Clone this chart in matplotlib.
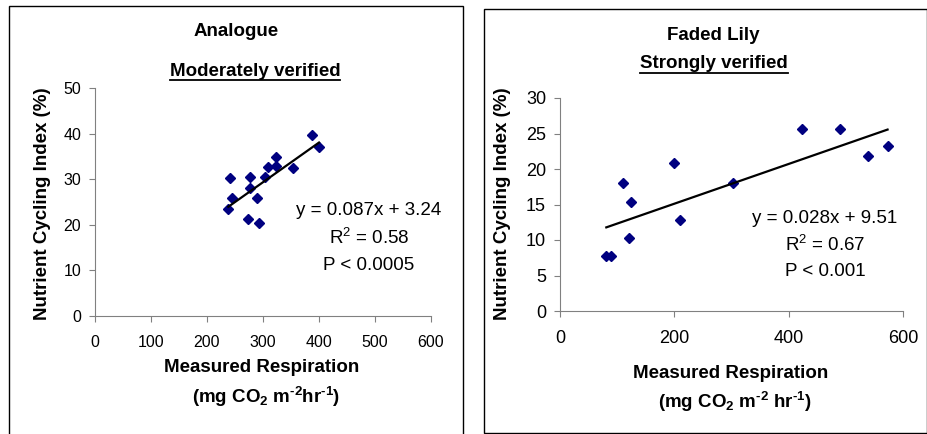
import matplotlib
matplotlib.use("Agg")
import matplotlib.pyplot as plt
import numpy as np
from matplotlib.patches import Rectangle
from matplotlib.lines import Line2D

plt.rcParams["font.family"] = ["Liberation Sans", "DejaVu Sans"]
plt.rcParams["mathtext.fontset"] = "custom"
plt.rcParams["mathtext.rm"] = "Liberation Sans"
plt.rcParams["mathtext.it"] = "Liberation Sans"
plt.rcParams["mathtext.bf"] = "Liberation Sans:bold"

# Analogue site
analogue_resp = [238, 241, 244, 274, 277, 276, 289, 292, 304, 309, 323, 324, 354, 387, 400]
analogue_nci = [23.4, 30.2, 25.8, 21.2, 28.0, 30.4, 25.8, 20.3, 30.4, 32.7, 34.9, 33.0, 32.4, 39.6, 37.1]
analogue_fit = (0.087, 3.24)
analogue_stats = ["y = 0.087x + 3.24", "R$^2$ = 0.58", "P < 0.0005"]

# Faded Lily site
lily_resp = [81, 89, 111, 120, 124, 200, 210, 303, 424, 490, 539, 573]
lily_nci = [7.7, 7.7, 18.0, 10.3, 15.4, 20.9, 12.8, 18.0, 25.6, 25.6, 21.8, 23.3]
lily_fit = (0.028, 9.51)
lily_stats = ["y = 0.028x + 9.51", "R$^2$ = 0.67", "P < 0.001"]

W, H = 927, 434
fig = plt.figure(figsize=(W / 100, H / 100), dpi=100)
BOLD = 13.5
STATS = 13.5


def fx(px):
    return px / W


def fy(py):
    return 1 - py / H


# panel frames
fig.patches.append(Rectangle((fx(9), -0.1), fx(463 - 9), 0.1 + fy(6), transform=fig.transFigure,
                             fill=False, edgecolor="black", linewidth=1))
fig.patches.append(Rectangle((fx(484), fy(433)), fx(926.5 - 484), fy(9) - fy(433), transform=fig.transFigure,
                             fill=False, edgecolor="black", linewidth=1))


def panel(rect, x, y, fit, stats, ylim, yticks, xticks, tick_size, title, subtitle, title_y, sub_y,
          ylab_x, xlab_y, unit, stats_x, stats_y):
    ax = fig.add_axes(rect)
    ax.plot(x, y, linestyle="none", marker="D", ms=5.6, color="#000080")
    xs = np.array([min(x), max(x)])
    ax.plot(xs, fit[0] * xs + fit[1], color="black", linewidth=1.6)
    ax.set_xlim(0, 600)
    ax.set_ylim(*ylim)
    ax.set_xticks(xticks)
    ax.set_yticks(yticks)
    for s in ["top", "right"]:
        ax.spines[s].set_visible(False)
    for s in ["left", "bottom"]:
        ax.spines[s].set_color("#808080")
    ax.tick_params(direction="out", length=4, color="#808080", labelsize=tick_size, pad=6)
    ax.tick_params(axis="x", pad=10)
    ax.patch.set_alpha(0)

    fig.text(title[1], fy(title_y), title[0], ha="center", va="center", fontsize=BOLD, fontweight="bold")
    sub = fig.text(subtitle[1], fy(sub_y), subtitle[0], ha="center", va="center", fontsize=BOLD,
                   fontweight="bold")
    fig.canvas.draw()
    bb = sub.get_window_extent().transformed(fig.transFigure.inverted())
    fig.add_artist(Line2D([bb.x0, bb.x1], [bb.y0 - 0.001, bb.y0 - 0.001], transform=fig.transFigure,
                          color="black", linewidth=1.3))

    fig.text(ylab_x, fy(204), "Nutrient Cycling Index (%)", rotation=90,
             ha="center", va="center", fontsize=BOLD, fontweight="bold")
    fig.text(unit[1], fy(xlab_y), "Measured Respiration", ha="center", va="center", fontsize=BOLD,
             fontweight="bold")
    fig.text(unit[1] + 0.004, fy(xlab_y + 29), unit[0], ha="center", va="center", fontsize=BOLD,
             fontweight="bold")

    for i, s in enumerate(stats):
        fig.text(stats_x, fy(stats_y + 27 * i), s, ha="center", va="center", fontsize=STATS)
    return ax


panel([fx(95), fy(316), fx(431 - 95), fy(88) - fy(316)], analogue_resp, analogue_nci, analogue_fit,
      analogue_stats, (0, 50), range(0, 51, 10), range(0, 601, 100), 11.5,
      ("Analogue", fx(236)), ("Moderately verified", fx(255)), 32, 71,
      fx(43), 368, ("(mg CO$_\\mathbf{2}$ m$^\\mathbf{\u20102}$hr$^\\mathbf{\u20101}$)", fx(262)),
      fx(369), 211)

panel([fx(560), fy(311), fx(903 - 560), fy(98) - fy(311)], lily_resp, lily_nci, lily_fit,
      lily_stats, (0, 30), range(0, 31, 5), range(0, 601, 200), 13,
      ("Faded Lily", fx(713)), ("Strongly verified", fx(714)), 35, 64,
      fx(502), 373, ("(mg CO$_\\mathbf{2}$ m$^\\mathbf{\u20102}$ hr$^\\mathbf{\u20101}$)", fx(731)),
      fx(825), 218)

fig.savefig("out.png", dpi=100)
